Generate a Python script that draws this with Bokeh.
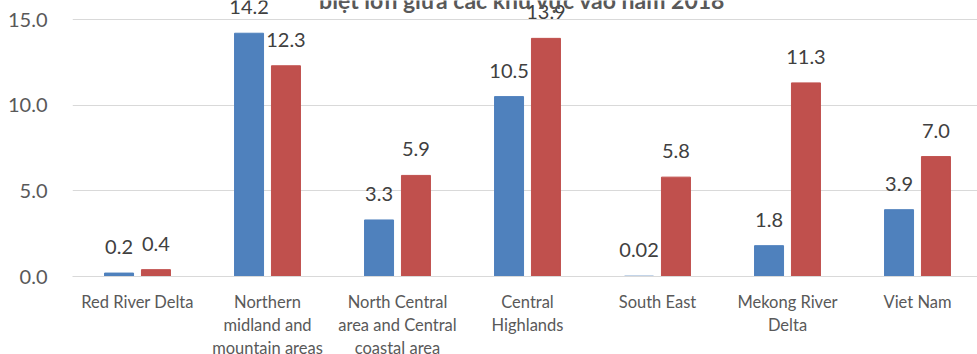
from bokeh.plotting import figure
from bokeh.models import Range1d, FixedTicker, ColumnDataSource
from bokeh.core.properties import value
from bokeh.embed import file_html
from bokeh.resources import INLINE

# Regional figures, 2018
regions = [
    "Red River Delta",
    "Northern\nmidland and\nmountain areas",
    "North Central\narea and Central\ncoastal area",
    "Central\nHighlands",
    "South East",
    "Mekong River\nDelta",
    "Viet Nam",
]
series_blue = [0.2, 14.2, 3.3, 10.5, 0.02, 1.8, 3.9]
series_red = [0.4, 12.3, 5.9, 13.9, 5.8, 11.3, 7.0]
blue_labels = ["0.2", "14.2", "3.3", "10.5", "0.02", "1.8", "3.9"]
red_labels = ["0.4", "12.3", "5.9", "13.9", "5.8", "11.3", "7.0"]
y_ticks = [0, 5, 10, 15]
title_text = "biệt lớn giữa các khu vực vào năm 2018"

BLUE = "#4F81BD"
RED = "#C0504D"
TEXT = "#595959"
LABEL = "#404040"
GRID = "#D9D9D9"
FONT = "Lato"

centers = [i + 0.5 for i in range(len(regions))]
offset = 0.142
bar_w = 0.223

src = ColumnDataSource(dict(
    xb=[c - offset for c in centers],
    xr=[c + offset for c in centers],
    yb=series_blue,
    yr=series_red,
    lb=blue_labels,
    lr=red_labels,
))

p = figure(
    width=977,
    frame_width=905,
    frame_height=276,
    x_range=Range1d(0, 905 / 130),
    y_range=Range1d(0, 16.11),
    output_backend="svg",
    toolbar_location=None,
    min_border_left=72,
    min_border_right=0,
    min_border_top=0,
    min_border_bottom=0,
)
p.outline_line_color = None
p.background_fill_color = "white"
p.border_fill_color = "white"

p.vbar(x="xb", top="yb", width=bar_w, source=src, fill_color=BLUE,
       line_color=BLUE)
p.vbar(x="xr", top="yr", width=bar_w, source=src, fill_color=RED,
       line_color=RED)

label_style = dict(
    text_font=value(FONT),
    text_font_size="20px",
    text_color=LABEL,
    text_align="center",
    text_baseline="alphabetic",
    y_offset=-26,
)
p.text(x="xb", y="yb", text="lb", source=src, **label_style)
p.text(x="xr", y="yr", text="lr", source=src, **label_style)

# chart title, running off the top edge
p.text(x=[3.46], y=[15.70], text=[title_text], y_offset=-8,
       text_font=value(FONT), text_font_size="23px", text_font_style="bold",
       text_color=TEXT, text_align="center", text_baseline="alphabetic")

# y axis: labels only
p.yaxis.ticker = FixedTicker(ticks=y_ticks)
p.yaxis.major_label_overrides = {t: f"{t:.1f}" for t in y_ticks}
p.yaxis.axis_line_color = None
p.yaxis.major_tick_line_color = None
p.yaxis.minor_tick_line_color = None
p.yaxis.major_label_standoff = 19
p.yaxis.major_label_text_font = FONT
p.yaxis.major_label_text_font_size = "20px"
p.yaxis.major_label_text_color = TEXT

p.ygrid.ticker = FixedTicker(ticks=y_ticks)
p.ygrid.grid_line_color = GRID
p.ygrid.grid_line_width = 1
p.xgrid.grid_line_color = None

# x axis: category names
p.xaxis.ticker = FixedTicker(ticks=centers)
p.xaxis.major_label_overrides = {c: r for c, r in zip(centers, regions)}
p.xaxis.axis_line_color = GRID
p.xaxis.major_tick_line_color = None
p.xaxis.minor_tick_line_color = None
p.xaxis.major_label_standoff = 9
p.xaxis.major_label_text_font = FONT
p.xaxis.major_label_text_font_size = "16.5px"
p.xaxis.major_label_text_color = TEXT
p.xaxis.major_label_text_line_height = 1.16

open("out.html", "w").write(file_html(p, INLINE))
